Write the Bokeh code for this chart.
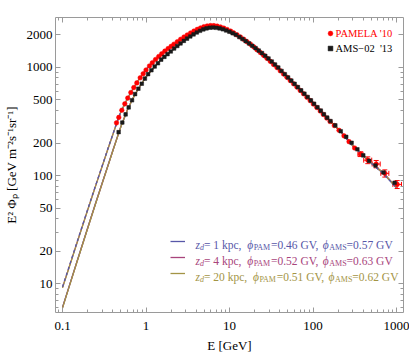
from bokeh.plotting import figure
from bokeh.models import (LogAxis, FixedTicker, Label, Legend, LegendItem,
                          ColumnDataSource, Whisker, TeeHead, Range1d)
from bokeh.embed import file_html
from bokeh.resources import INLINE

# ---------------- data ----------------
pam_E = [0.443, 0.472, 0.513, 0.557, 0.604, 0.658, 0.714, 0.776, 0.852, 0.925,
         1.00, 1.10, 1.19, 1.30, 1.42, 1.54, 1.68, 1.84, 2.00, 2.16,
         2.37, 2.60, 2.85, 3.12, 3.42, 3.75, 4.11, 4.50, 4.93, 5.40,
         5.92, 6.49, 7.11, 7.79, 8.54, 9.36, 10.3, 11.2, 12.3, 13.5,
         14.8, 16.2, 17.8, 19.5, 21.3, 23.4, 25.6, 28.1, 30.8, 33.7,
         37.0, 40.5, 44.4, 48.7, 53.4, 58.5, 64.1, 70.3, 77.0, 84.4,
         92.5, 101, 111, 122, 133, 146, 160, 180, 205, 235,
         270, 315, 370, 453, 571, 725, 1019]
pam_v = [307, 345, 402, 460, 520, 585, 650, 718, 800, 872,
         945, 1030, 1102, 1180, 1258, 1330, 1410, 1490, 1562, 1635,
         1725, 1815, 1905, 1990, 2075, 2160, 2240, 2310, 2370, 2410,
         2430, 2425, 2400, 2360, 2300, 2235, 2160, 2080, 1995, 1905,
         1815, 1725, 1635, 1545, 1455, 1370, 1290, 1210, 1135, 1062,
         995, 930, 868, 810, 755, 705, 657, 612, 570, 530,
         493, 458, 426, 395, 367, 340, 316, 290, 262, 233,
         206, 180, 158, 139, 128, 105, 83]
# error bars of the last PAMELA points
pam_err_Elo = [345, 405, 511, 649, 905]
pam_err_Ehi = [397, 505, 638, 810, 1147]
pam_err_vlo = [150, 129, 118, 97, 76]
pam_err_vhi = [166, 149, 138, 113, 90]

ams_E = [0.47, 0.52, 0.57, 0.62, 0.68, 0.74, 0.81, 0.89, 0.97, 1.06,
         1.16, 1.27, 1.39, 1.52, 1.66, 1.81, 1.98, 2.17, 2.37, 2.59,
         2.84, 3.10, 3.39, 3.71, 4.06, 4.44, 4.86, 5.31, 5.81, 6.36,
         6.96, 7.61, 8.33, 9.11, 9.97, 10.9, 11.9, 13.1, 14.3, 15.6,
         17.1, 18.7, 20.5, 22.4, 24.5, 26.8, 29.3, 32.1, 35.1, 38.4,
         42.0, 46.0, 50.3, 55.0, 60.2, 65.9, 72.1, 78.9, 86.3, 94.4,
         103, 113, 124, 135, 148, 162, 185, 215, 250, 290,
         340, 400, 470, 560, 700, 950]
ams_v = [252, 309, 368, 427, 496, 566, 635, 706, 787, 865,
         940, 1017, 1090, 1177, 1250, 1325, 1401, 1491, 1575, 1662,
         1755, 1841, 1928, 2015, 2098, 2173, 2241, 2290, 2323, 2330,
         2316, 2289, 2243, 2190, 2130, 2064, 1996, 1904, 1826, 1747,
         1663, 1582, 1505, 1427, 1353, 1277, 1206, 1130, 1061, 995,
         926, 864, 806, 753, 704, 656, 612, 571, 532, 495,
         461, 428, 398, 369, 343, 319, 291, 257, 228, 201,
         175, 154, 137, 124, 107, 86]

model_E = [0.1, 0.12, 0.15, 0.2, 0.25, 0.3, 0.35, 0.4, 0.45, 0.5,
           0.6, 0.7, 0.8, 1, 1.2, 1.5, 2, 2.5, 3, 4,
           5, 6, 7, 8, 10, 12, 15, 20, 25, 30,
           40, 50, 70, 100, 150, 200, 300, 500, 700, 1000]
# PAMELA-modulated model curves
pam_z1 = [9.4, 14.5, 24.7, 48.7, 82.0, 124.5, 178, 240, 313, 390,
          518, 639, 752, 955, 1112, 1317, 1562, 1772, 1952, 2222,
          2380, 2432, 2406, 2346, 2170, 2014, 1798, 1528, 1316, 1172,
          950, 799, 617, 465, 332, 269, 188, 130, 104, 77]
pam_z4 = [9.3, 14.3, 24.4, 48.3, 81.3, 123.7, 177, 239, 312, 389,
          517, 638, 751, 954, 1111, 1316, 1561, 1771, 1951, 2221,
          2379, 2431, 2405, 2345, 2170, 2015, 1799, 1529, 1317, 1173,
          951, 800, 618, 466, 333, 270, 189, 131, 105, 78]
pam_z20 = [9.2, 14.2, 24.2, 47.9, 80.8, 123, 176, 238, 311, 388,
           516, 637, 750, 953, 1110, 1315, 1560, 1770, 1950, 2220,
           2378, 2430, 2405, 2345, 2170, 2015, 1800, 1530, 1318, 1174,
           952, 800, 618, 466, 333, 270, 189, 131, 105, 78]
# AMS-02-modulated model curves
ams_z1 = [6.1, 9.5, 16.4, 32.9, 56.2, 86.5, 124, 170, 223, 284,
          406, 521, 626, 816, 961, 1171, 1411, 1611, 1811, 2086,
          2256, 2326, 2316, 2266, 2128, 1990, 1785, 1525, 1330, 1174,
          951, 799, 617, 465, 332, 269, 188, 130, 104, 77]
ams_z4 = [6.05, 9.45, 16.3, 32.7, 55.9, 86.1, 123.5, 169.5, 222.5, 283.5,
          405, 520, 625, 815, 960, 1170, 1410, 1610, 1810, 2085,
          2255, 2325, 2315, 2265, 2128, 1990, 1785, 1525, 1331, 1175,
          952, 800, 618, 466, 333, 270, 189, 131, 105, 78]
ams_z20 = [6.0, 9.4, 16.2, 32.5, 55.6, 85.7, 123, 169, 222, 283,
           405, 520, 625, 815, 960, 1170, 1410, 1610, 1810, 2085,
           2255, 2325, 2315, 2265, 2128, 1990, 1785, 1525, 1332, 1175,
           952, 800, 618, 466, 333, 270, 189, 131, 105, 78]

x_ticks = [0.1, 1, 10, 100, 1000]
x_tick_labels = ["0.1", "1", "10", "100", "1000"]
x_minor = [0.09, 0.2, 0.3, 0.4, 0.5, 0.6, 0.7, 0.8, 0.9, 2, 3, 4, 5, 6, 7, 8, 9,
           20, 30, 40, 50, 60, 70, 80, 90, 200, 300, 400, 500, 600, 700, 800, 900]
y_ticks = [10, 20, 50, 100, 200, 500, 1000, 2000]
y_tick_labels = ["10", "20", "50", "100", "200", "500", "1000", "2000"]
y_minor = [6, 7, 8, 9, 30, 40, 60, 70, 80, 90, 300, 400, 600, 700, 800, 900]

legend_rows = [
    ("1", "0.46", "0.57"),
    ("4", "0.52", "0.63"),
    ("20", "0.51", "0.62"),
]

# ---------------- style ----------------
FONT = "Liberation Serif"
C_BLUE = "#5757a8"
C_MAG = "#a8447c"
C_OLIVE = "#a39445"
FRAME = "#9a9a9a"

p = figure(width=409, height=355, x_axis_type="log", y_axis_type="log",
           x_range=Range1d(0.0824, 1213), y_range=Range1d(5.45, 2884),
           output_backend="svg", toolbar_location=None,
           min_border_left=55, min_border_right=6, min_border_top=17,
           min_border_bottom=42)
p.xgrid.visible = False
p.ygrid.visible = False
p.outline_line_color = None
p.background_fill_color = "white"

xt = FixedTicker(ticks=x_ticks, minor_ticks=x_minor)
yt = FixedTicker(ticks=y_ticks, minor_ticks=y_minor)


def style_axis(ax, ticker, labels=None):
    ax.ticker = ticker
    ax.axis_line_color = FRAME
    ax.major_tick_line_color = FRAME
    ax.minor_tick_line_color = FRAME
    ax.major_tick_in = 5
    ax.major_tick_out = 0
    ax.minor_tick_in = 3
    ax.minor_tick_out = 0
    if labels is None:
        ax.major_label_text_font_size = "1px"
        ax.major_label_text_alpha = 0
        ax.major_label_standoff = 0
    else:
        ax.major_label_overrides = labels
        ax.major_label_text_font = FONT
        ax.major_label_text_font_size = "13px"
        ax.major_label_text_color = "black"
    ax.axis_label_text_font = FONT
    ax.axis_label_text_font_size = "13px"
    ax.axis_label_text_font_style = "normal"
    ax.axis_label_text_color = "black"


style_axis(p.xaxis[0], xt, dict(zip(x_ticks, x_tick_labels)))
style_axis(p.yaxis[0], yt, dict(zip(y_ticks, y_tick_labels)))
p.xaxis[0].major_label_standoff = 9
p.yaxis[0].major_label_standoff = 3
p.xaxis[0].axis_label = "E [GeV]"
p.xaxis[0].axis_label_standoff = 5
p.yaxis[0].axis_label = "E² Φₚ [GeV m⁻²s⁻¹sr⁻¹]"
p.yaxis[0].axis_label_standoff = 5

top_ax = LogAxis()
right_ax = LogAxis()
style_axis(top_ax, xt)
style_axis(right_ax, yt)
p.add_layout(top_ax, "above")
p.add_layout(right_ax, "right")

# ---------------- model lines ----------------
LW = 1.3
r_low_b = p.line(model_E, ams_z1, line_color=C_BLUE, line_width=LW)
r_low_m = p.line(model_E, ams_z4, line_color=C_MAG, line_width=LW)
r_low_o = p.line(model_E, ams_z20, line_color=C_OLIVE, line_width=LW)
p.line(model_E, pam_z4, line_color=C_MAG, line_width=LW)
p.line(model_E, pam_z20, line_color=C_OLIVE, line_width=LW)
p.line(model_E, pam_z1, line_color=C_BLUE, line_width=LW, line_dash="3 3")

# ---------------- data ----------------
err = ColumnDataSource(dict(E=pam_E[-5:], v=pam_v[-5:],
                            elo=pam_err_Elo, ehi=pam_err_Ehi,
                            vlo=pam_err_vlo, vhi=pam_err_vhi))
p.add_layout(Whisker(source=err, base="v", lower="elo", upper="ehi",
                     dimension="width", line_color="red", line_width=1,
                     upper_head=TeeHead(size=5, line_color="red"),
                     lower_head=TeeHead(size=5, line_color="red")))
p.add_layout(Whisker(source=err, base="E", lower="vlo", upper="vhi",
                     dimension="height", line_color="red", line_width=1,
                     upper_head=TeeHead(size=5, line_color="red"),
                     lower_head=TeeHead(size=5, line_color="red")))

r_pam = p.scatter(pam_E, pam_v, marker="circle", size=4.6,
                  fill_color="red", line_color="red", line_width=0.5)
r_ams = p.scatter(ams_E, ams_v, marker="square", size=3.6,
                  fill_color="#1a1a1a", line_color="#1a1a1a", line_width=0.5)

# ---------------- legends ----------------
def make_leg(label, rend, color, loc, gw=12, gh=12, fs="10.5px"):
    lg = Legend(items=[LegendItem(label=label, renderers=[rend])],
                location=loc, glyph_width=gw, glyph_height=gh,
                label_height=gh, label_standoff=0, padding=0, margin=0,
                spacing=0, border_line_alpha=0, background_fill_alpha=0,
                label_text_font=FONT, label_text_font_size=fs,
                label_text_color=color)
    p.add_layout(lg)


make_leg("PAMELA '10", r_pam, "red", (268.5, 272.7))
make_leg("AMS\u221202  '13", r_ams, "black", (268.5, 257.7))

line_leg = Legend(items=[LegendItem(label="-", renderers=[r]) for r in
                         (r_low_b, r_low_m, r_low_o)],
                  location=(115, 31.5), glyph_width=15, glyph_height=16,
                  label_height=16, label_width=4, label_standoff=0,
                  padding=0, margin=0, spacing=0, border_line_alpha=0,
                  background_fill_alpha=0, label_text_font_size="4px",
                  label_text_alpha=0)
p.add_layout(line_leg)

# rich-text legend rows made of pieces
REG = {' ': 250, '=': 564, ',': 250, '.': 250, 'k': 500, 'p': 500, 'c': 444,
       'G': 722, 'V': 722, 'P': 556, 'A': 722, 'M': 889, 'S': 556}
ITA = {'z': 389, 'd': 500, '\u03d5': 560}


def width(txt, size, italic):
    tab = ITA if italic else REG
    return sum((500 if ch.isdigit() else tab.get(ch, 500)) for ch in txt) * size / 1000.0


FL, FB = 55, 313  # frame left / bottom in page pixels


def row(x0, base, pieces, color):
    x = x0
    for txt, size, italic, dy in pieces:
        if txt.strip():
            p.add_layout(Label(x=x - FL, y=FB - (base + dy), x_units="screen",
                               y_units="screen", text=txt, text_font=FONT,
                               text_font_size=f"{size}px",
                               text_font_style="italic" if italic else "normal",
                               text_color=color, text_baseline="alphabetic",
                               text_align="left"))
        x += width(txt, size, italic)


S, SS = 11.5, 8
for i, ((zd, ppam, pams), col) in enumerate(zip(legend_rows, (C_BLUE, C_MAG, C_OLIVE))):
    base = 245.5 + 16 * i
    row(195, base, [
        ("z", S, True, 0), ("d", SS, True, 2.5),
        (f"= {zd} kpc,", S, False, 0), ("  ", S, False, 0),
        ("\u03d5", S, True, 0), ("PAM", SS, False, 2.5),
        (f"={ppam} GV,", S, False, 0), (" ", S, False, 0),
        ("\u03d5", S, True, 0), ("AMS", SS, False, 2.5),
        (f"={pams} GV", S, False, 0),
    ], col)

open("out.html", "w").write(file_html(p, INLINE))
